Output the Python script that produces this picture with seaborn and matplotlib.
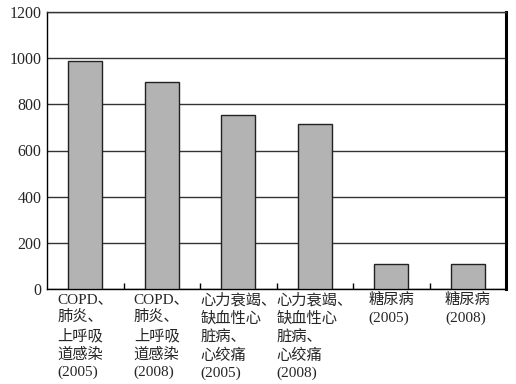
import matplotlib
matplotlib.use("Agg")
import matplotlib.pyplot as plt
import seaborn as sns
import pandas as pd
from matplotlib.ticker import FixedLocator

categories = [
    "COPD、\n肺炎、\n上呼吸\n道感染\n(2005)",
    "COPD、\n肺炎、\n上呼吸\n道感染\n(2008)",
    "心力衰竭、\n缺血性心\n脏病、\n心绞痛\n(2005)",
    "心力衰竭、\n缺血性心\n脏病、\n心绞痛\n(2008)",
    "糖尿病\n(2005)",
    "糖尿病\n(2008)",
]
values = [988, 898, 755, 715, 108, 108]
yticks = [0, 200, 400, 600, 800, 1000, 1200]

sns.set_theme(style="white")
plt.rcParams["font.family"] = ["Liberation Serif", "Noto Sans CJK SC", "DejaVu Sans"]

df = pd.DataFrame({"cat": categories, "val": values})

fig = plt.figure(figsize=(5.16, 3.84), dpi=100)
ax = fig.add_axes([47 / 516, 1 - 289 / 384, (506 - 47) / 516, (289 - 12) / 384])

sns.barplot(data=df, x="cat", y="val", color="#b3b3b3", saturation=1,
            width=0.44, edgecolor="#222222", linewidth=1.0, ax=ax, zorder=3)

ax.set_ylim(0, 1200)
ax.set_xlim(-0.5, 5.5)
ax.set_yticks(yticks)
ax.set_yticklabels([str(t) for t in yticks], fontsize=11.5)
ax.set_xlabel("")
ax.set_ylabel("")

ax.yaxis.grid(True, color="#333333", linewidth=1.0, zorder=0)
ax.set_axisbelow(True)

ax.tick_params(axis="y", length=0, pad=4)
ax.tick_params(axis="x", which="major", length=0, pad=3)
ax.set_xticks(range(len(categories)))
ax.set_xticklabels(categories, fontsize=11, linespacing=1.38, va="top", ha="center",
                   multialignment="left")
ax.xaxis.set_minor_locator(FixedLocator([0.5, 1.5, 2.5, 3.5, 4.5]))
ax.tick_params(axis="x", which="minor", direction="in", length=4, width=1, color="black", bottom=True)

for s in ["left", "bottom"]:
    ax.spines[s].set_color("black")
    ax.spines[s].set_linewidth(1.0)
ax.spines["right"].set_color("black")
ax.spines["right"].set_linewidth(2.2)
ax.spines["top"].set_color("#333333")
ax.spines["top"].set_linewidth(1.0)

fig.savefig("out.png", dpi=100)
